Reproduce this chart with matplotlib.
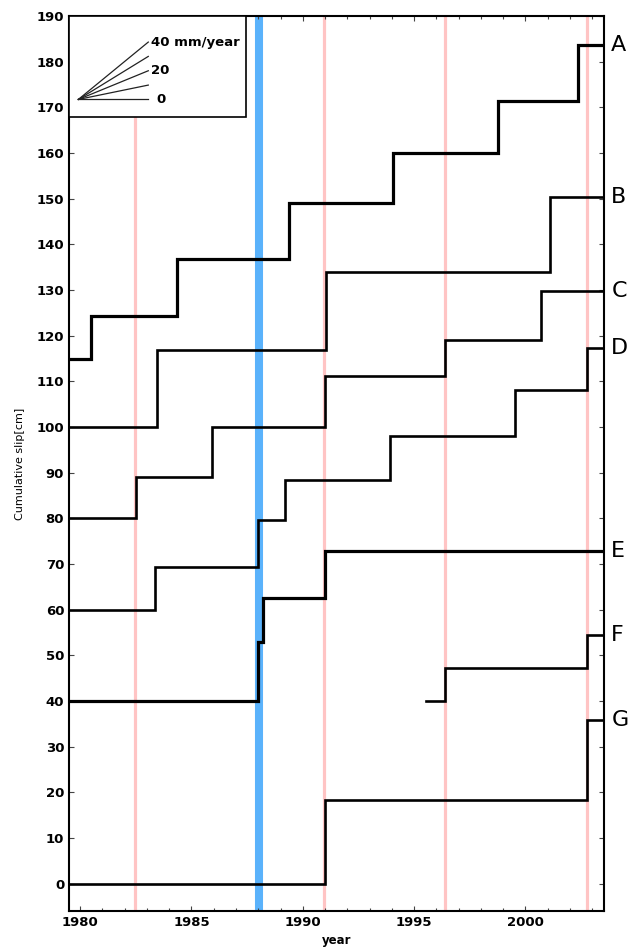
import numpy as np
import matplotlib
matplotlib.use("Agg")
import matplotlib.pyplot as plt
from matplotlib.patches import Rectangle
from matplotlib.ticker import MultipleLocator

# step series: (year of each step, level after it)
x_start, x_end = 1979.5, 2003.54
series = {
    "A": ([1979.5, 1980.48, 1984.35, 1989.36, 1994.03, 1998.78, 2002.37],
          [115, 124.3, 136.9, 149.0, 160.1, 171.5, 183.6]),
    "B": ([1979.5, 1983.43, 1991.03, 2001.08],
          [100, 116.9, 134.0, 150.3]),
    "C": ([1979.5, 1982.52, 1985.9, 1991.0, 1996.4, 2000.7],
          [80, 89.0, 100.1, 111.1, 119.1, 129.9]),
    "D": ([1979.5, 1983.38, 1987.98, 1989.2, 1993.9, 1999.53, 2002.78],
          [60, 69.3, 79.7, 88.4, 98.0, 108.2, 117.4]),
    "E": ([1979.5, 1987.98, 1988.22, 1990.99],
          [40, 52.9, 62.6, 72.9]),
    "F": ([1995.52, 1996.37, 2002.78],
          [40, 47.2, 54.5]),
    "G": ([1979.5, 1990.99, 2002.78],
          [0, 18.4, 35.9]),
}
thick = {"A": 2.3, "E": 2.3}

event_years = [1982.46, 1990.96, 1996.37, 2002.75]
blue_year = 1988.05

# rate fan in the key box (mm/year)
fan_rates = [0, 10, 20, 30, 40]
fan_origin = (1979.92, 171.75)
fan_dx = 3.14

fig = plt.figure(figsize=(6.39, 9.47), dpi=100)
ax = fig.add_axes([0.108, 0.038, 0.8377, 0.945])

for yr in event_years:
    ax.axvline(yr, color="#ffc4c4", lw=2.3, zorder=1)
ax.axvline(blue_year, color="#5ab2fb", lw=5.8, zorder=1)

for name, (xs, ys) in series.items():
    xs = list(xs) + [x_end]
    ys = list(ys) + [ys[-1]]
    ax.step(xs, ys, where="post", color="black", lw=thick.get(name, 1.9),
            solid_joinstyle="miter", zorder=3)
    ax.annotate(name, xy=(1.013, ys[-1]), xycoords=("axes fraction", "data"),
                fontsize=16, va="center", ha="left", annotation_clip=False)

# key box with slope fan
ax.add_patch(Rectangle((x_start, 168.0), 1987.47 - x_start, 190 - 168.0,
                       fill=True, facecolor="white", edgecolor="black",
                       lw=1.2, zorder=4))
x0, y0 = fan_origin
for r in fan_rates:
    ax.plot([x0, x0 + fan_dx], [y0, y0 + r / 10 * fan_dx], color="#222222",
            lw=0.9, zorder=5)
kw = dict(fontsize=9.5, fontweight="bold", va="center", zorder=6)
ax.text(x0 + fan_dx + 0.12, y0 + 4 * fan_dx, "40 mm/year", ha="left", **kw)
ax.text(x0 + fan_dx + 0.12, y0 + 2 * fan_dx, "20", ha="left", **kw)
ax.text(x0 + fan_dx + 0.55, y0, "0", ha="center", **kw)

ax.set_xlim(x_start, x_end)
ax.set_ylim(-6, 190)
ax.set_xticks([1980, 1985, 1990, 1995, 2000])
ax.set_yticks(np.arange(0, 191, 10))
ax.xaxis.set_minor_locator(MultipleLocator(1))
ax.tick_params(which="both", direction="in", top=True, right=True,
               labelsize=9.5, width=0.8, color="#444444")
ax.tick_params(which="major", length=3.5)
ax.tick_params(which="minor", length=2)
for lab in ax.get_xticklabels() + ax.get_yticklabels():
    lab.set_fontweight("bold")
for sp in ax.spines.values():
    sp.set_linewidth(1.5)

ax.set_xlabel("year", fontsize=8.5, fontweight="bold", labelpad=4)
ax.set_ylabel("Cumulative slip[cm]", fontsize=8, labelpad=8)

fig.savefig("out.png", dpi=100)
